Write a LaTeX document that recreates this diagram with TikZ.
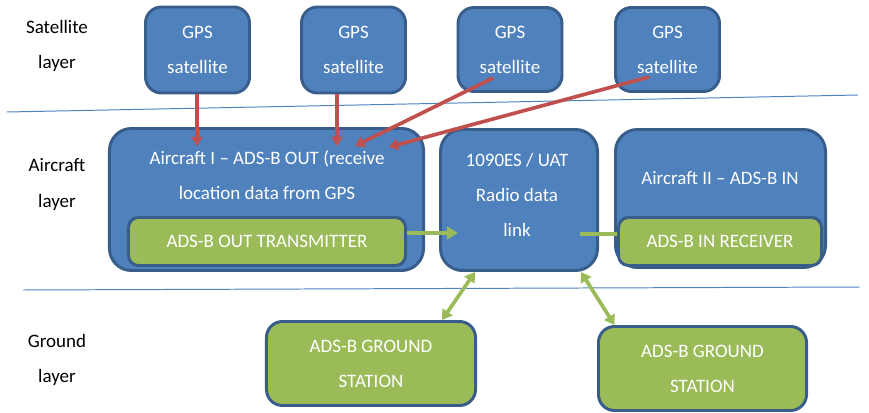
\documentclass[tikz,border=0pt]{standalone}
\usepackage{fontspec}
\setmainfont{Carlito}
\usetikzlibrary{arrows.meta,calc,positioning}
\definecolor{boxblue}{HTML}{4F81BD}
\definecolor{edgeblue}{HTML}{385D8A}
\definecolor{boxgreen}{HTML}{9BBB59}
\definecolor{feedred}{HTML}{C0504D}
\newcommand{\boxfont}{\fontsize{13.5}{24.9}\selectfont}

\begin{document}
\begin{tikzpicture}[x=0.025cm,y=-0.025cm,
  bluebox/.style={draw=edgeblue,fill=boxblue,line width=2.1pt,rounded corners=0.4cm,
    text=white,align=center,font=\boxfont,inner sep=0pt},
  greenbox/.style={bluebox,fill=boxgreen,rounded corners=0.25cm},
  boxtext/.style={text=white,align=center,font=\boxfont,inner sep=0pt},
  feedarrow/.style={-{Triangle[length=6.5pt,width=8pt]},draw=feedred,line width=2.6pt},
  linkarrow/.style={draw=boxgreen,line width=2.6pt},
  sepline/.style={draw=boxblue,line width=0.7pt},
  layerlabel/.style={align=center,font=\boxfont,inner sep=0pt}]
  \useasboundingbox (0,0) rectangle (869,413);

  % layer borders
  \draw[sepline] (7,112) -- (858,95);
  \draw[sepline] (23,290) -- (860,287);

  % layer names
  \node[layerlabel] (satlayer) at (57,45.5) {Satellite\\layer};
  \node[layerlabel] (airlayer) at (57,184.5) {Aircraft\\layer};
  \node[layerlabel] (gndlayer) at (57,359.5) {Ground\\layer};

  % satellites
  \node[bluebox,minimum width=2.6cm,minimum height=2.15cm] (gps1) at (197.5,50) {GPS\\satellite};
  \node[bluebox,minimum width=2.6cm,minimum height=2.15cm] (gps2) at (353.5,50) {GPS\\satellite};
  \node[bluebox,minimum width=2.6cm,minimum height=2.1cm] (gps3) at (510,49.5) {GPS\\satellite};
  \node[bluebox,minimum width=2.6cm,minimum height=2.1cm] (gps4) at (667.5,49.5) {GPS\\satellite};

  % aircraft
  \node[bluebox,rounded corners=0.55cm,minimum width=7.85cm,minimum height=3.55cm] (acone) at (266.5,199.5) {};
  \node[boxtext] (aconetext) at (267,175.5) {Aircraft I -- ADS-B OUT (receive\\location data from GPS};
  \node[greenbox,minimum width=6.925cm,minimum height=1.2cm] (txbox) at (267,241.5) {ADS-B OUT TRANSMITTER};

  \node[bluebox,rounded corners=0.55cm,minimum width=3.925cm,minimum height=3.525cm] (radio) at (519,200) {};
  \node[boxtext] (radiotext) at (517,194.5) {1090ES / UAT\\Radio data\\link};

  \node[bluebox,rounded corners=0.55cm,minimum width=5.25cm,minimum height=3.45cm] (actwo) at (720.5,198.5) {};
  \node[boxtext] (actwotext) at (720,178) {Aircraft II -- ADS-B IN};
  \node[greenbox,minimum width=5.075cm,minimum height=1.2cm] (rxbox) at (720,241.5) {ADS-B IN RECEIVER};

  % ground
  \node[greenbox,rounded corners=0.4cm,minimum width=5.225cm,minimum height=2.1cm] (gs1) at (371,363.5) {ADS-B GROUND\\STATION};
  \node[greenbox,rounded corners=0.4cm,minimum width=5.2cm,minimum height=2.1cm] (gs2) at (702.5,368.5) {ADS-B GROUND\\STATION};

  % GPS feeds
  \coordinate (in1) at (197,146);
  \coordinate (in2) at (337,146);
  \coordinate (in3) at (355,146);
  \coordinate (in4) at (389,147);
  \coordinate (out3) at ($(gps3.center)+(-17,28.5)$);
  \coordinate (out4) at ($(gps4.center)+(-18.5,27.5)$);
  \draw[feedarrow] (in1 |- gps1.south) -- (in1);
  \draw[feedarrow] (in2 |- gps2.south) -- (in2);
  \draw[feedarrow] (out3) -- (in3);
  \draw[feedarrow] (out4) -- (in4);

  % data link
  \coordinate (txend) at (458,233);
  \coordinate (rxstart) at (580,234);
  \draw[linkarrow,-{Triangle[length=8pt,width=9pt]}] (txend -| txbox.east) -- (txend);
  \draw[linkarrow] (rxstart) -- (rxstart -| rxbox.west);
  \draw[linkarrow,{Triangle[length=7pt,width=8.5pt]}-{Triangle[length=7pt,width=8.5pt]}]
    ($(gs1.north)+(71,0)$) -- ($(radio.south)+(-44,0)$);
  \draw[linkarrow,{Triangle[length=7pt,width=8.5pt]}-{Triangle[length=7pt,width=8.5pt]}]
    ($(gs2.north)+(-88,0)$) -- ($(radio.south)+(62,0)$);
\end{tikzpicture}
\end{document}
